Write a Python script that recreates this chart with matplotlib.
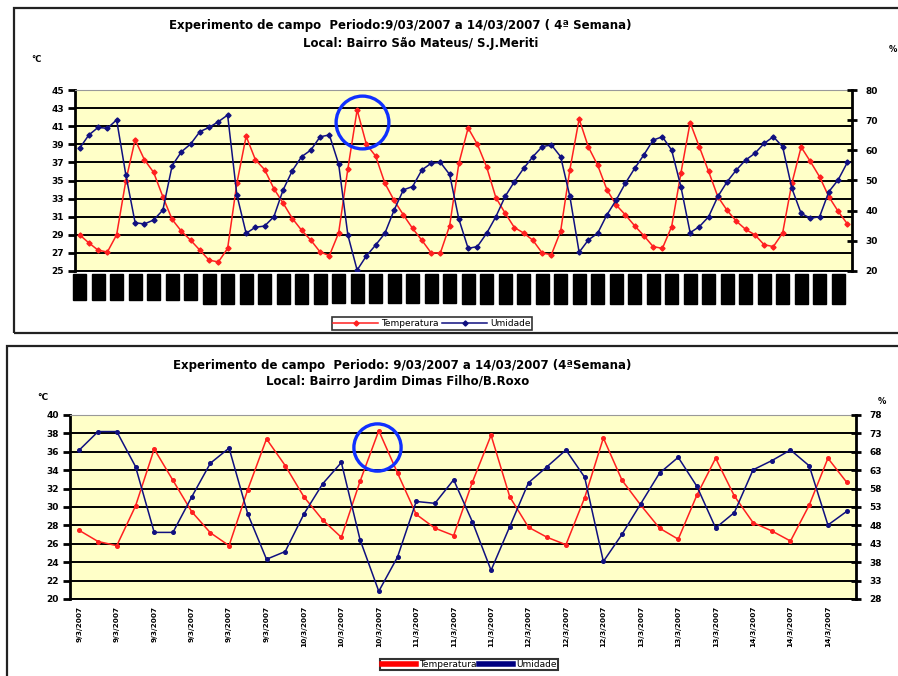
import numpy as np
import matplotlib
matplotlib.use('Agg')
import matplotlib.pyplot as plt
from matplotlib.patches import Rectangle
from matplotlib.lines import Line2D

plt.rcParams['font.family'] = ['DejaVu Sans']

# --- dados grafico 1 (Sao Mateus / S.J.Meriti), leituras a cada 2 h
temp_top = [29.0, 28.1, 27.3, 27.1, 29.0, 35.0, 39.5, 37.3, 35.9, 33.2,
            30.7, 29.4, 28.4, 27.3, 26.2, 26.0, 27.5, 34.7, 39.9, 37.3,
            36.2, 34.1, 32.5, 30.8, 29.5, 28.4, 27.1, 26.7, 29.2, 36.3,
            42.8, 39.0, 37.7, 34.7, 32.8, 31.2, 29.7, 28.4, 27.0, 27.0,
            30.0, 36.9, 40.8, 39.0, 36.5, 33.1, 31.4, 29.8, 29.2, 28.4,
            27.0, 26.8, 29.4, 36.2, 41.8, 38.7, 36.7, 34.0, 32.3, 31.2,
            30.0, 28.9, 27.7, 27.5, 29.9, 35.8, 41.4, 38.7, 36.0, 33.2,
            31.7, 30.5, 29.6, 29.0, 27.9, 27.7, 29.2, 34.7, 38.7, 37.1,
            35.4, 33.2, 31.6, 30.2]
umid_top = [60.7, 65.1, 67.6, 67.3, 70.1, 51.8, 36.0, 35.6, 36.9, 40.2,
            54.9, 59.5, 62.1, 66.2, 67.6, 69.5, 71.7, 45.2, 32.5, 34.5,
            34.9, 38.0, 46.9, 53.3, 57.9, 60.1, 64.5, 65.1, 55.5, 31.9,
            20.3, 25.0, 28.6, 32.5, 40.2, 46.9, 48.0, 53.5, 55.7, 56.0,
            52.0, 37.2, 27.5, 28.1, 32.5, 38.0, 44.7, 49.6, 54.0, 57.9,
            61.2, 61.8, 57.9, 44.7, 26.2, 30.3, 32.5, 38.6, 43.5, 49.1,
            54.0, 58.5, 63.4, 64.5, 60.1, 48.0, 32.7, 34.7, 38.0, 44.7,
            49.6, 53.5, 56.8, 59.0, 62.3, 64.5, 61.2, 47.4, 39.1, 37.5,
            38.0, 46.3, 50.2, 56.0]
lbl_top = ['%d/3/07' % (9 + i // 14) for i in range(0, len(temp_top), 2)]

# --- dados grafico 2 (Jardim Dimas Filho / B.Roxo)
temp_bot = [27.45, 26.25, 25.8, 30.1, 36.3, 32.9, 29.5, 27.2, 25.8, 31.9,
            37.4, 34.5, 31.1, 28.6, 26.7, 32.8, 38.3, 33.7, 29.2, 27.7,
            26.9, 32.7, 37.8, 31.1, 27.8, 26.7, 25.9, 31.0, 37.5, 32.9,
            30.2, 27.7, 26.5, 31.3, 35.3, 31.2, 28.3, 27.4, 26.3, 30.2,
            35.3, 32.7]
umid_bot = [68.5, 73.5, 73.5, 64.0, 46.1, 46.1, 55.7, 64.9, 69.0, 51.1,
            38.8, 40.9, 51.1, 59.3, 65.1, 44.1, 30.1, 39.4, 54.5, 54.0,
            60.4, 49.0, 35.8, 47.7, 59.6, 64.0, 68.5, 61.1, 38.2, 45.6,
            53.9, 62.2, 66.5, 58.6, 47.3, 51.5, 63.1, 65.6, 68.5, 64.2,
            48.1, 51.8]
lbl_bot = (['9/3/2007'] * 6 + ['10/3/2007'] * 3 + ['11/3/2007'] * 3 +
           ['12/3/2007'] * 3 + ['13/3/2007'] * 3 + ['14/3/2007'] * 3)

W, H = 898, 676
def fx(x): return x / W
def fy(y): return 1 - y / H

fig = plt.figure(figsize=(W / 100, H / 100), dpi=100)
fig.patch.set_facecolor('white')

# molduras
fig.add_artist(Rectangle((fx(14), fy(333)), fx(900) - fx(14), fy(8) - fy(333),
                         transform=fig.transFigure, fill=False, ec='#222222', lw=1.6))
fig.add_artist(Rectangle((fx(7), fy(690)), fx(900) - fx(7), fy(346) - fy(690),
                         transform=fig.transFigure, fill=False, ec='#222222', lw=1.6))

RED = '#FF2020'
NAVY = '#101080'


def montar(rect, temp, umid, tlim, tstep, hlim, hstep, mk, ms):
    ax = fig.add_axes(rect)
    ax.set_facecolor('#FFFFC8')
    x = np.arange(len(temp))
    ax.plot(x, temp, color=RED, lw=1.1, marker=mk, ms=ms, label='Temperatura')
    ax.set_xlim(-0.5, len(temp) - 0.5)
    ax.set_ylim(*tlim)
    ax.set_yticks(np.arange(tlim[0], tlim[1] + 0.1, tstep))
    ax.yaxis.grid(True, color='black', lw=1.4)
    ax.set_axisbelow(True)
    ax.spines['top'].set_color('#999999')
    ax.spines['left'].set_linewidth(2)
    ax.spines['bottom'].set_linewidth(1.4)
    ax.spines['right'].set_visible(False)
    ax.tick_params(axis='y', direction='out', length=5, width=2, pad=3)
    for t in ax.get_yticklabels():
        t.set_fontsize(6.5); t.set_fontweight('bold')

    ax2 = ax.twinx()
    ax2.plot(x, umid, color=NAVY, lw=1.1, marker=mk, ms=ms, label='Umidade')
    ax2.set_ylim(*hlim)
    ax2.set_yticks(np.arange(hlim[0], hlim[1] + 0.1, hstep))
    for s in ['top', 'left', 'bottom']:
        ax2.spines[s].set_visible(False)
    ax2.spines['right'].set_linewidth(2)
    ax2.tick_params(axis='y', direction='inout', length=7, width=2, pad=6)
    for t in ax2.get_yticklabels():
        t.set_fontsize(6.5); t.set_fontweight('bold')
    return ax, ax2


# ---------------- grafico de cima
ax1, ax1b = montar([fx(75), fy(271), fx(852) - fx(75), fy(90) - fy(271)],
                   temp_top, umid_top, (25, 45), 2, (20, 80), 10, 'D', 2.6)
ax1.set_xticks(np.arange(0, len(temp_top), 2))
ax1.set_xticklabels(lbl_top, rotation=90, fontsize=5.2, fontweight='bold',
                    family='Liberation Sans')
ax1.tick_params(axis='x', length=0, pad=4)
for t in ax1.get_xticklabels():
    t.set_bbox(dict(facecolor='black', edgecolor='black', pad=2.2))

ip = int(np.argmax(temp_top))
ax1.plot(ip + 0.5, temp_top[ip] - 1.3, 'o', ms=38, mfc='none', mec='#1030FF',
         mew=2.4, clip_on=False)

fig.text(fx(400), fy(26), 'Experimento de campo  Periodo:9/03/2007 a 14/03/2007 ( 4ª Semana)',
         ha='center', va='center', fontsize=8.5, fontweight='bold')
fig.text(fx(421), fy(43), 'Local: Bairro São Mateus/ S.J.Meriti',
         ha='center', va='center', fontsize=8.5, fontweight='bold')
fig.text(fx(36), fy(60), '°C', ha='center', va='center', fontsize=6, fontweight='bold')
fig.text(fx(893), fy(50), '%', ha='center', va='center', fontsize=6, fontweight='bold')

h1, l1 = ax1.get_legend_handles_labels()
h2, l2 = ax1b.get_legend_handles_labels()
lg = fig.legend(h1 + h2, l1 + l2, loc='center', ncol=2,
                bbox_to_anchor=(fx(432), fy(323.5)), fontsize=6.5, frameon=True,
                fancybox=False, edgecolor='black', handlelength=5,
                borderpad=0.2, columnspacing=0.4, handletextpad=0.3)
lg.get_frame().set_linewidth(1.2)

# ---------------- grafico de baixo
ax2, ax2b = montar([fx(70), fy(599), fx(856) - fx(70), fy(415) - fy(599)],
                   temp_bot, umid_bot, (20, 40), 2, (28, 78), 5, 'o', 2.6)
ax2.set_xticks(np.arange(0, len(temp_bot), 2))
ax2.set_xticklabels(lbl_bot, rotation=90, fontsize=5.3, fontweight='bold')
ax2.tick_params(axis='x', length=0, pad=5)

ip = int(np.argmax(temp_bot))
ax2.plot(ip - 0.1, temp_bot[ip] - 1.8, 'o', ms=34, mfc='none', mec='#1030FF',
         mew=2.4, clip_on=False)

fig.text(fx(402), fy(365), 'Experimento de campo  Periodo: 9/03/2007 a 14/03/2007 (4ªSemana)',
         ha='center', va='center', fontsize=8.5, fontweight='bold')
fig.text(fx(398), fy(381), 'Local: Bairro Jardim Dimas Filho/B.Roxo',
         ha='center', va='center', fontsize=8.5, fontweight='bold')
fig.text(fx(43), fy(398), '°C', ha='center', va='center', fontsize=6.5, fontweight='bold')
fig.text(fx(882), fy(402), '%', ha='center', va='center', fontsize=6, fontweight='bold')

hb = [Line2D([], [], color='#FF0000', lw=4), Line2D([], [], color='#000080', lw=4)]
lg2 = fig.legend(hb, ['Temperatura', 'Umidade'], loc='lower center', ncol=2,
                 bbox_to_anchor=(fx(469), fy(675)), fontsize=6.5, frameon=True,
                 fancybox=False, edgecolor='black', handlelength=3.8,
                 borderpad=0.15, columnspacing=0.3, handletextpad=0.3)
lg2.get_frame().set_linewidth(1.5)

fig.savefig('out.png', dpi=100)
